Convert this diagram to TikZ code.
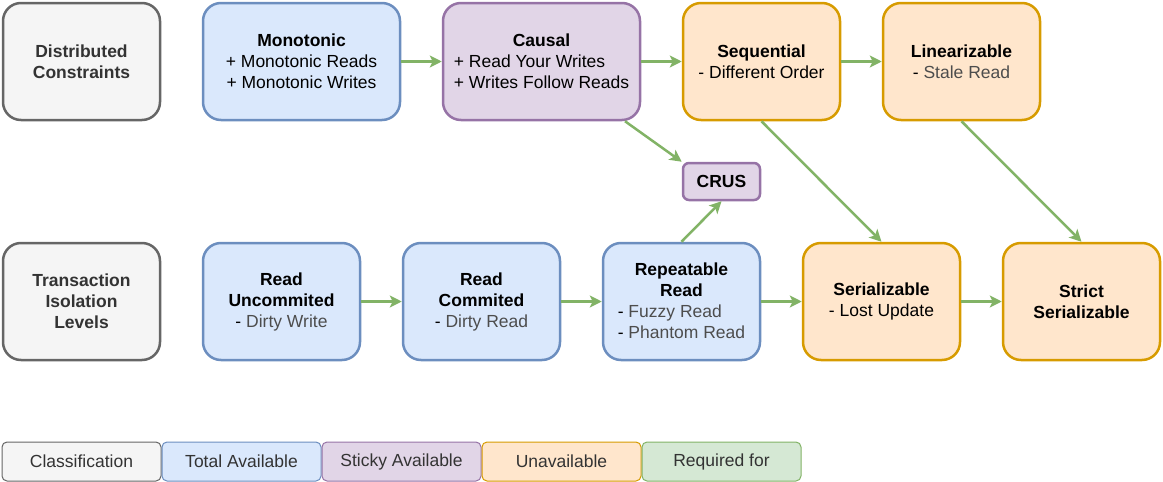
\documentclass[tikz,border=0pt]{standalone}
\usepackage{fontspec}
\setmainfont{Liberation Sans}
\usepackage{xcolor}
\usepackage{tikz}
\usetikzlibrary{arrows.meta,positioning}
\definecolor{clsfill}{HTML}{F5F5F5}\definecolor{clsline}{HTML}{666666}
\definecolor{totfill}{HTML}{DAE8FC}\definecolor{totline}{HTML}{6C8EBF}
\definecolor{stkfill}{HTML}{E1D5E7}\definecolor{stkline}{HTML}{9673A6}
\definecolor{unafill}{HTML}{FFE6CC}\definecolor{unaline}{HTML}{D79B00}
\definecolor{reqfill}{HTML}{D5E8D4}\definecolor{reqline}{HTML}{82B366}
\definecolor{darktxt}{HTML}{333333}\definecolor{softtxt}{HTML}{4D4D4D}
\tikzset{LVL style/.style={rounded corners=18pt,line width=2.5pt,minimum width=157pt,minimum height=117pt,inner sep=0pt,align=center,font=\fontsize{17.5}{21}\selectfont},
	cls/.style={LVL style,fill=clsfill,draw=clsline,text=darktxt,font=\fontsize{17.5}{21}\selectfont\bfseries},
	tot/.style={LVL style,fill=totfill,draw=totline},
	stk/.style={LVL style,fill=stkfill,draw=stkline},
	una/.style={LVL style,fill=unafill,draw=unaline},
	key/.style={rounded corners=5pt,line width=1pt,minimum width=159pt,minimum height=39pt,inner sep=0pt,text=darktxt,font=\fontsize{17.5}{21}\selectfont},
	req/.style={draw=reqline,line width=2.5pt,arrows={-Stealth[length=12pt,width=12pt,inset=3pt]}}}
\newcommand{\minus}[1]{- \textcolor{softtxt}{#1}}
\newcommand{\topgap}[1]{\rule{0pt}{#1}}

\begin{document}
\begin{tikzpicture}[x=1pt,y=-1pt]
	\useasboundingbox (0,0) rectangle (1163,482);
	% top row
	\node[cls] (dist) at (81.5,61.5) {Distributed\\Constraints};
	\node[tot,minimum width=197pt] (mono) at (301.5,61.5) {\textbf{Monotonic}\\+ Monotonic Reads\\+ Monotonic Writes};
	\node[stk,minimum width=197pt] (causal) at (541.5,61.5) {\topgap{18.5pt}\textbf{Causal}\\\begin{tabular}[t]{@{}l@{}}+ Read Your Writes\\+ Writes Follow Reads\end{tabular}};
	\node[una] (seq) at (761.5,61.5) {\textbf{Sequential}\\- Different Order};
	\node[una] (lin) at (961.5,61.5) {\textbf{Linearizable}\\\minus{Stale Read}};
	\node[stk,rounded corners=6pt,minimum width=77pt,minimum height=37pt] (crus) at (721.5,181.5) {\textbf{CRUS}};
	% bottom row
	\node[cls] (trans) at (81.5,301.5) {Transaction\\Isolation\\Levels};
	\node[tot] (ru) at (281.5,301.5) {\textbf{Read}\\\textbf{Uncommited}\\\minus{Dirty Write}};
	\node[tot] (rc) at (481.5,301.5) {\textbf{Read}\\\textbf{Commited}\\\minus{Dirty Read}};
	\node[tot] (rr) at (681.5,301.5) {\topgap{16.5pt}\textbf{Repeatable}\\\textbf{Read}\\\begin{tabular}[t]{@{}l@{}}\minus{Fuzzy Read}\\\minus{Phantom Read}\end{tabular}};
	\node[una] (ser) at (881.5,301.5) {\textbf{Serializable}\\- Lost Update};
	\node[una] (strict) at (1081.5,301.5) {\textbf{Strict}\\\textbf{Serializable}};
	% legend
	\node[key,fill=clsfill,draw=clsline] (kcls) at (81.5,461.5) {Classification};
	\node[key,fill=totfill,draw=totline] (ktot) at (241.5,461.5) {Total Available};
	\node[key,fill=stkfill,draw=stkline] (kstk) at (401.5,461.5) {Sticky Available};
	\node[key,fill=unafill,draw=unaline] (kuna) at (561.5,461.5) {Unavailable};
	\node[key,fill=reqfill,draw=reqline] (kreq) at (721.5,461.5) {Required for};
	
	\draw[req] (mono) -- (causal);
	\draw[req] (causal) -- (seq);
	\draw[req] (seq) -- (lin);
	\draw[req] (causal) -- (crus.north west);
	\draw[req] (rr.north) -- (crus.south);
	\draw[req] (seq.south) -- (ser.north);
	\draw[req] (lin.south) -- (strict.north);
	\draw[req] (ru) -- (rc);
	\draw[req] (rc) -- (rr);
	\draw[req] (rr) -- (ser);
	\draw[req] (ser) -- (strict);
\end{tikzpicture}
\end{document}
